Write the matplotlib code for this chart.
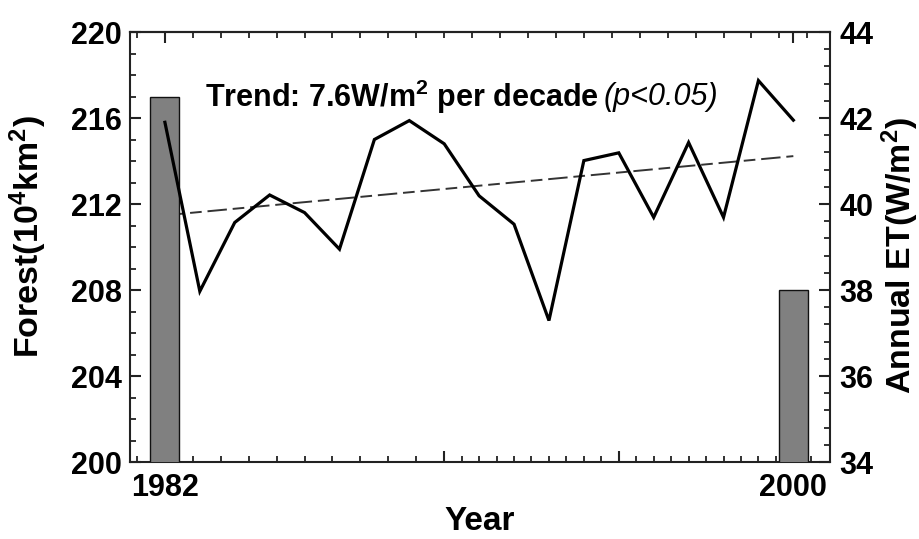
import numpy as np
import matplotlib
matplotlib.use("Agg")
import matplotlib.pyplot as plt
from matplotlib.ticker import MultipleLocator, FixedLocator

# ---- data ----
years = np.arange(1982, 2001)
annual_et = [41.90, 37.97, 39.57, 40.21, 39.80, 38.95, 41.50, 41.94, 41.40, 40.19,
             39.53, 37.29, 41.01, 41.19, 39.69, 41.43, 39.69, 42.87, 41.95]
forest_years = [1982, 2000]
forest_area = [217.0, 208.0]
xtick_labels = ["1982", "2000"]

plt.rcParams['font.family'] = ['Liberation Sans', 'DejaVu Sans']
plt.rcParams['font.weight'] = 'bold'
plt.rcParams['mathtext.fontset'] = 'custom'
plt.rcParams['mathtext.rm'] = 'Liberation Sans:bold'
plt.rcParams['mathtext.bf'] = 'Liberation Sans:bold'
plt.rcParams['mathtext.it'] = 'Liberation Sans:italic'
plt.rcParams['mathtext.default'] = 'rm'

W, H = 920, 539
fig = plt.figure(figsize=(W / 100, H / 100), dpi=100)
L, R, T, B = 130, 830, 32, 462
rect = [L / W, 1 - B / H, (R - L) / W, (B - T) / H]

# bottom layer: trend (ET units)
ax_tr = fig.add_axes(rect)
# middle: bars (forest units)
ax = fig.add_axes(rect)
# top: ET line
ax_et = fig.add_axes(rect)

for a in (ax_tr, ax, ax_et):
    a.set_xlim(1981.0, 2001.05)
ax_tr.set_zorder(0)
ax.set_zorder(1)
ax_et.set_zorder(2)
ax.patch.set_visible(False)
ax_et.patch.set_visible(False)

# trend from linear fit of the series
coef = np.polyfit(years, annual_et, 1)
trend = np.polyval(coef, years)
ax_tr.plot(years, trend, color='#333333', lw=1.4, ls=(0, (10, 3, 6, 3)))
ax_tr.set_ylim(34, 44)
ax_tr.axis('off')

# bars
ax.bar(forest_years, forest_area, width=0.83, bottom=0, color='#808080',
       edgecolor='#111111', linewidth=1.0, zorder=3)
ax.set_ylim(200, 220)

# ET line
ax_et.plot(years, annual_et, color='black', lw=2.3, solid_joinstyle='miter')
ax_et.set_ylim(34, 44)

# ---- axes styling ----
lab_fs = 22
for sp in ax.spines.values():
    sp.set_linewidth(1.5)
    sp.set_color('#222222')
for sp in ax_et.spines.values():
    sp.set_visible(False)

ax.yaxis.set_major_locator(MultipleLocator(4))
ax.yaxis.set_minor_locator(MultipleLocator(1))
ax.xaxis.set_major_locator(FixedLocator([1982, 1990, 1995, 2000]))
ax.set_xticklabels([xtick_labels[0], "", "", xtick_labels[1]])
ax.xaxis.set_minor_locator(FixedLocator(
    list(np.arange(1981.2, 1989.9, 0.8)) + list(np.arange(1990.5, 2001.0, 0.5))))
ax.tick_params(axis='both', which='major', direction='in', length=8, width=1.5,
               labelsize=lab_fs, color='#222222')
ax.tick_params(axis='both', which='minor', direction='in', length=4, width=1.3,
               color='#222222')
ax.tick_params(axis='y', which='major', pad=6)
ax.tick_params(axis='x', which='major', pad=8)
for t in ax.get_xticklabels() + ax.get_yticklabels():
    t.set_fontweight('bold')

# top ticks
sec = ax.secondary_xaxis('top')
sec.xaxis.set_major_locator(FixedLocator([1982, 2000]))
sec.xaxis.set_minor_locator(FixedLocator(list(np.arange(1981.2, 2001.0, 0.8))))
sec.tick_params(which='major', direction='in', length=8, width=1.5, labeltop=False,
                color='#222222')
sec.tick_params(which='minor', direction='in', length=4, width=1.3, color='#222222')
sec.spines['top'].set_linewidth(1.5)

# right axis ticks on ET axes
ax_et.xaxis.set_visible(False)
ax_et.yaxis.tick_right()
ax_et.yaxis.set_major_locator(MultipleLocator(2))
ax_et.yaxis.set_minor_locator(MultipleLocator(0.4))
ax_et.tick_params(axis='y', which='major', direction='in', length=8, width=1.5,
                  labelsize=lab_fs, pad=7, color='#222222')
ax_et.tick_params(axis='y', which='minor', direction='in', length=4, width=1.3,
                  color='#222222')
for t in ax_et.get_yticklabels():
    t.set_fontweight('bold')

# axis labels
fig.text(28 / W, 1 - 237 / H, r"Forest(10$^{4}$km$^{2}$)", rotation=90,
         ha='center', va='center', fontsize=24.5, fontweight='bold')
fig.text(900 / W, 1 - 255 / H, r"Annual ET(W/m$^{2}$)", rotation=90,
         ha='center', va='center', fontsize=24.5, fontweight='bold')
fig.text(480 / W, 1 - 522 / H, "Year", ha='center', va='center',
         fontsize=24, fontweight='bold')

# trend annotation
t1 = fig.text(205 / W, 1 - 97 / H, r"Trend: 7.6W/m$^{2}$ per decade",
              ha='left', va='center', fontsize=22, fontweight='bold')
fig.canvas.draw()
bb = t1.get_window_extent()
fig.text((bb.x1 + 5) / W, 1 - 97 / H, "(p<0.05)", ha='left', va='center',
         fontsize=22, fontstyle='italic', fontweight='normal')

fig.savefig("out.png", dpi=100)
